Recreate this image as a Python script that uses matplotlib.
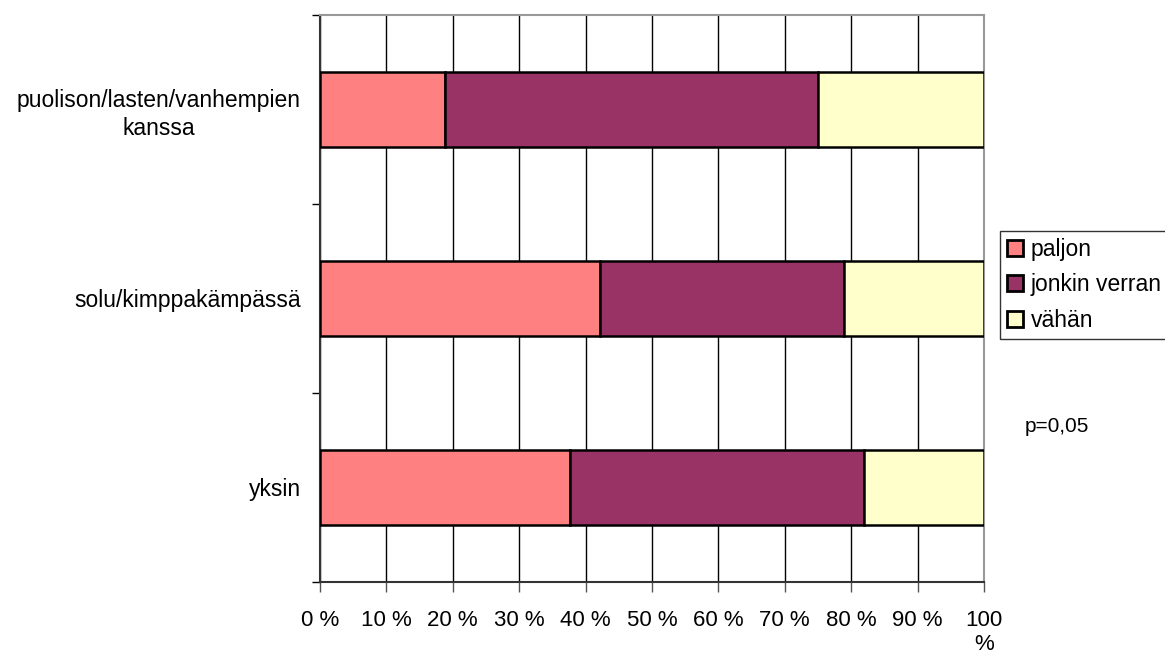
import matplotlib
matplotlib.use("Agg")
import matplotlib.pyplot as plt
import numpy as np

plt.rcParams['font.family'] = ['Liberation Sans', 'DejaVu Sans']

# asumismuoto, alimmainen ensin
categories = ["yksin", "solu/kimppakämpässä", "puolison/lasten/vanhempien\nkanssa"]
series_names = ["paljon", "jonkin verran", "vähän"]
paljon = [37.7, 42.1, 18.8]
jonkin_verran = [44.2, 36.8, 56.2]
vahan = [18.1, 21.1, 25.0]
tick_labels = ["0 %", "10 %", "20 %", "30 %", "40 %", "50 %",
               "60 %", "70 %", "80 %", "90 %", "100\n%"]
colors = ["#FF8080", "#993366", "#FFFFCC"]


def draw():
    fig = plt.figure(figsize=(11.65, 6.52), dpi=100)
    ax = fig.add_axes([0.2747, 0.1074, 0.5699, 0.8696])

    y = np.arange(len(categories))
    left = np.zeros(len(categories))
    for name, vals, col in zip(series_names, [paljon, jonkin_verran, vahan], colors):
        ax.barh(y, vals, left=left, height=0.4, color=col, edgecolor="black",
                linewidth=1.8, label=name, zorder=3)
        left += np.array(vals)

    ax.set_xlim(0, 100)
    ax.set_ylim(-0.5, len(categories) - 0.5)

    ax.set_xticks(np.arange(0, 101, 10))
    ax.set_xticklabels(tick_labels, fontsize=16, va="top", linespacing=1.2)
    ax.xaxis.grid(True, color="black", linewidth=1.0, zorder=0)
    ax.tick_params(axis="x", length=7, width=1, color="#555555", pad=13)

    ax.set_yticks(y)
    ax.set_yticklabels(categories, fontsize=16.5, multialignment="center",
                       linespacing=1.3)
    ax.tick_params(axis="y", which="major", length=0, pad=14)
    ax.set_yticks(np.arange(-0.5, len(categories)), minor=True)
    ax.tick_params(axis="y", which="minor", length=6, width=1, color="black")

    ax.spines["top"].set_color("#999999")
    ax.spines["top"].set_linewidth(1.5)
    ax.spines["right"].set_color("#999999")
    ax.spines["right"].set_linewidth(1.5)
    ax.spines["left"].set_color("#333333")
    ax.spines["left"].set_linewidth(1.5)
    ax.spines["bottom"].set_color("#333333")
    ax.spines["bottom"].set_linewidth(1.5)

    leg = fig.legend(loc="upper left", bbox_to_anchor=(1000 / 1165, 1 - 231 / 652),
                     fontsize=16.5, frameon=True, fancybox=False, handlelength=0.7,
                     handleheight=0.7, handletextpad=0.35, borderpad=0.3,
                     labelspacing=0.55, borderaxespad=0)
    leg.get_frame().set_edgecolor("black")
    leg.get_frame().set_linewidth(1.0)
    for h in leg.legend_handles:
        h.set_linewidth(2.0)

    fig.text(1025 / 1165, 1 - 427 / 652, "p=0,05", fontsize=15, va="center")

    fig.savefig("out.png", dpi=100)


def main():
    draw()


if __name__ == '__main__':
    main()
